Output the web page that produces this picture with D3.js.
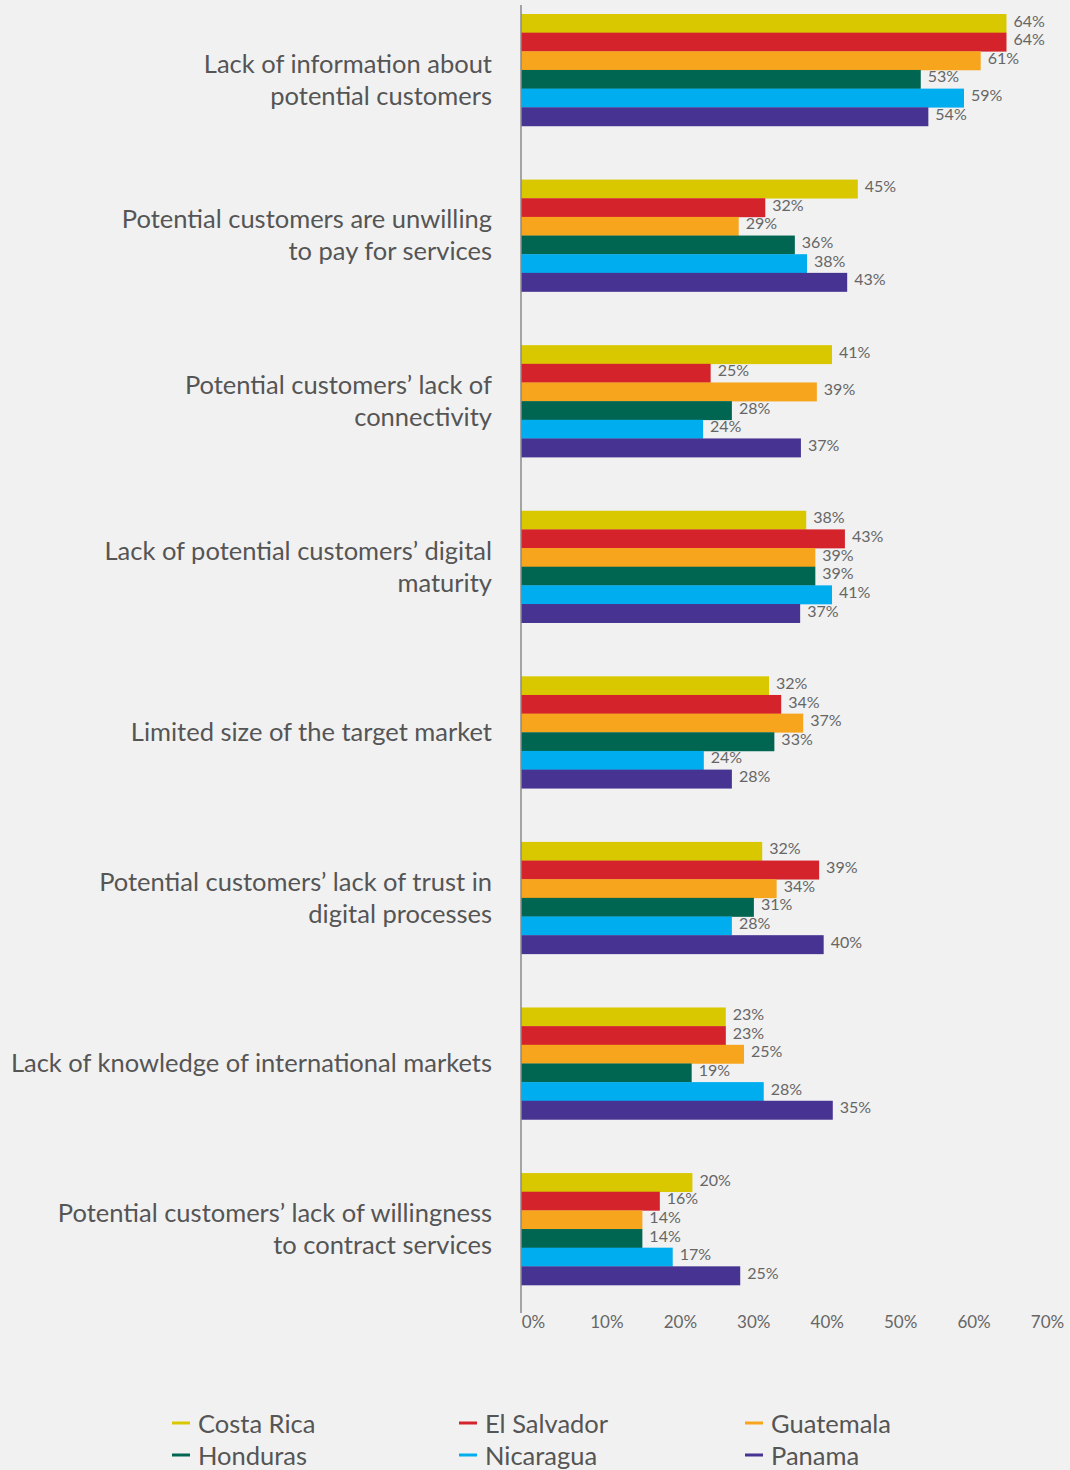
<!DOCTYPE html>
<html>
<head>
<meta charset="utf-8">
<script src="https://cdn.jsdelivr.net/npm/d3@7"></script>
<style>
  html, body { margin: 0; padding: 0; background: #f1f1f1; }
  svg { display: block; }
  text { font-family: Lato, "Open Sans", sans-serif; }
</style>
</head>
<body>
<svg id="chart" width="1070" height="1470"></svg>
<script>
// ---- data ----
const categories = [
  "Lack of information about potential customers",
  "Potential customers are unwilling to pay for services",
  "Potential customers’ lack of connectivity",
  "Lack of potential customers’ digital maturity",
  "Limited size of the target market",
  "Potential customers’ lack of trust in digital processes",
  "Lack of knowledge of international markets",
  "Potential customers’ lack of willingness to contract services"
];
const categoryLines = [
  ["Lack of information about", "potential customers"],
  ["Potential customers are unwilling", "to pay for services"],
  ["Potential customers’ lack of", "connectivity"],
  ["Lack of potential customers’ digital", "maturity"],
  ["Limited size of the target market"],
  ["Potential customers’ lack of trust in", "digital processes"],
  ["Lack of knowledge of international markets"],
  ["Potential customers’ lack of willingness", "to contract services"]
];
const seriesNames = ["Costa Rica", "El Salvador", "Guatemala", "Honduras", "Nicaragua", "Panama"];
const seriesColors = ["#d9c800", "#d4232b", "#f7a51c", "#006652", "#00adee", "#473391"];

// bar lengths (as drawn, in %)
const costaRica  = [64.0, 44.4, 41.0, 37.6, 32.7, 31.8, 27.0, 22.6];
const elSalvador = [64.0, 32.2, 25.0, 42.7, 34.3, 39.3, 27.0, 18.3];
const guatemala  = [60.6, 28.7, 39.0, 38.8, 37.2, 33.7, 29.4, 16.0];
const honduras   = [52.7, 36.1, 27.8, 38.8, 33.4, 30.7, 22.5, 16.0];
const nicaragua  = [58.4, 37.7, 24.0, 41.0, 24.1, 27.8, 32.0, 20.0];
const panama     = [53.7, 43.0, 36.9, 36.8, 27.8, 39.9, 41.1, 28.9];

// printed value labels (%)
const costaRicaLabels  = [64, 45, 41, 38, 32, 32, 23, 20];
const elSalvadorLabels = [64, 32, 25, 43, 34, 39, 23, 16];
const guatemalaLabels  = [61, 29, 39, 39, 37, 34, 25, 14];
const hondurasLabels   = [53, 36, 28, 39, 33, 31, 19, 14];
const nicaraguaLabels  = [59, 38, 24, 41, 24, 28, 28, 17];
const panamaLabels     = [54, 43, 37, 37, 28, 40, 35, 25];

const tickValues = [0, 10, 20, 30, 40, 50, 60, 70];

const seriesValues = [costaRica, elSalvador, guatemala, honduras, nicaragua, panama];
const seriesLabels = [costaRicaLabels, elSalvadorLabels, guatemalaLabels, hondurasLabels, nicaraguaLabels, panamaLabels];

// ---- chart ----
const svg = d3.select("#chart");
const axisX = 521;

const x = d3.scaleLinear().domain([0, 70]).range([axisX, 1052]);
const xTicks = d3.scaleLinear().domain([0, 70]).range([533, 1047]);
const y = d3.scaleBand().domain(categories).range([14, 1285]).paddingInner(0.324).paddingOuter(0);
const ySub = d3.scaleBand().domain(seriesNames).range([0, y.bandwidth()]);
const color = d3.scaleOrdinal().domain(seriesNames).range(seriesColors);

const rows = [];
categories.forEach((c, ci) => {
  seriesNames.forEach((s, si) => {
    rows.push({ cat: c, ci, series: s, value: seriesValues[si][ci], label: seriesLabels[si][ci] });
  });
});

// bars
svg.append("g").selectAll("rect").data(rows).join("rect")
  .attr("x", x(0))
  .attr("y", d => y(d.cat) + ySub(d.series))
  .attr("width", d => x(d.value) - x(0))
  .attr("height", ySub.bandwidth() + 0.3)
  .attr("fill", d => color(d.series));

// value labels
svg.append("g").selectAll("text").data(rows).join("text")
  .attr("x", d => x(d.value) + 7)
  .attr("y", d => y(d.cat) + ySub(d.series) + ySub.bandwidth() / 2)
  .attr("dy", "0.2em")
  .attr("font-size", 16)
  .attr("fill", "#666")
  .text(d => d.label + "%");

// axis line
svg.append("line")
  .attr("x1", axisX).attr("x2", axisX)
  .attr("y1", 5).attr("y2", 1313)
  .attr("stroke", "#8a8a8a").attr("stroke-width", 1.5);

// x tick labels
const xAxis = d3.axisBottom(xTicks).tickValues(tickValues).tickSize(0).tickPadding(0).tickFormat(d => d + "%");
const gx = svg.append("g").attr("transform", "translate(0,1316)").call(xAxis);
gx.select(".domain").remove();
gx.selectAll("text")
  .attr("font-family", "Lato, 'Open Sans', sans-serif")
  .attr("font-size", 17)
  .attr("fill", "#666")
  .attr("dy", "0.71em");

// category labels
const catG = svg.append("g").selectAll("text").data(categories).join("text")
  .attr("text-anchor", "end")
  .attr("font-size", 25.5)
  .attr("fill", "#555")
  .attr("transform", (d, i) => {
    const cy = y(d) + y.bandwidth() / 2 + (i === 0 ? 10 : 0);
    return `translate(492,${cy})`;
  });
catG.each(function(d, i) {
  const lines = categoryLines[i];
  const lh = 32;
  const t = d3.select(this);
  lines.forEach((ln, li) => {
    t.append("tspan")
      .attr("x", 0)
      .attr("y", (li - (lines.length - 1) / 2) * lh)
      .attr("dy", "0.35em")
      .text(ln);
  });
});

// legend
const legCols = [172, 459, 745];
const legRows = [1424, 1456];
const leg = svg.append("g").selectAll("g").data(seriesNames).join("g")
  .attr("transform", (d, i) => `translate(${legCols[i % 3]},${legRows[Math.floor(i / 3)]})`);
leg.append("line")
  .attr("x1", 0).attr("x2", 18).attr("y1", -1).attr("y2", -1)
  .attr("stroke", d => color(d)).attr("stroke-width", 3);
leg.append("text")
  .attr("x", 26).attr("dy", "0.35em")
  .attr("font-size", 25.5).attr("fill", "#555")
  .text(d => d);
</script>
</body>
</html>
